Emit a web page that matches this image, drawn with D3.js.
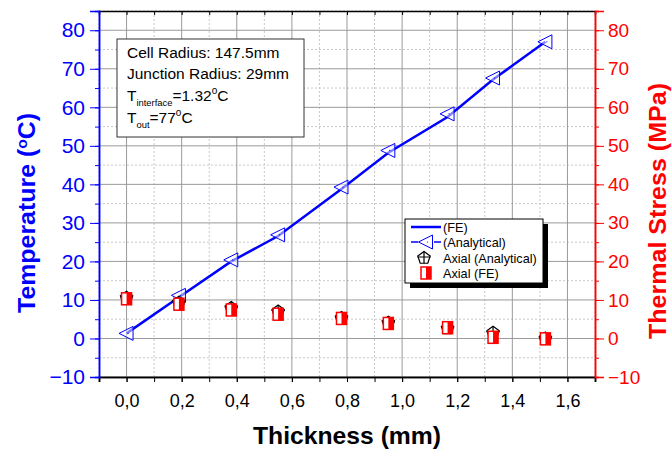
<!DOCTYPE html>
<html lang="en">
<head>
<meta charset="UTF-8">
<title>Temperature and Thermal Stress vs Thickness</title>
<script src="https://d3js.org/d3.v7.min.js"></script>
<style>
  body { margin: 0; background: #fff; }
  svg { font-family: "Liberation Sans", Arial, sans-serif; }
</style>
</head>
<body>
<div id="chart"></div>
<script>
// Data
const thickness = [0, 0.19, 0.38, 0.55, 0.78, 0.95, 1.165, 1.33, 1.52];
const tempFE = [1.32, 10.7, 20.0, 26.6, 38.8, 48.2, 57.5, 67.2, 77];
const tempAnalytical = [1.32, 11.2, 20.4, 26.9, 39.3, 48.8, 58.3, 67.6, 77];
const stressAnalytical = [10.6, 9.3, 7.9, 7.0, 5.3, 4.1, 2.6, 1.5, 0.0];
const stressFE = [10.3, 8.9, 7.4, 6.3, 5.2, 3.9, 2.8, 0.3, -0.1];
const xTicks = [0, 0.2, 0.4, 0.6, 0.8, 1.0, 1.2, 1.4, 1.6];
const yTicks = [-10, 0, 10, 20, 30, 40, 50, 60, 70, 80];
const legendLabels = ["(FE)", "(Analytical)", "Axial (Analytical)", "Axial (FE)"];
const noteLines = ["Cell Radius: 147.5mm", "Junction Radius: 29mm"];

const W = 672, H = 453;
const margin = {top: 11, right: 77, bottom: 76, left: 99};
const width = W - margin.left - margin.right;
const height = H - margin.top - margin.bottom;

const svg = d3.select("#chart").append("svg")
    .attr("width", W).attr("height", H);
const g = svg.append("g")
    .attr("transform", `translate(${margin.left},${margin.top})`);

const x = d3.scaleLinear().domain([-0.1, 1.7]).range([0, width]);
const yT = d3.scaleLinear().domain([-10, 85]).range([height, 0]);
const yS = d3.scaleLinear().domain([-10, 85]).range([height, 0]);

const fmt = d => d3.format(".1f")(d).replace(".", ",");
const minorX = d3.range(-0.1, 1.71, 0.1).map(v => +v.toFixed(2));
const minorY = d3.range(-10, 86, 5);

// grid: minor dashed, major solid
g.append("g").selectAll("line").data(minorX.filter(v => !xTicks.some(t => Math.abs(t - v) < 1e-6)))
  .join("line")
    .attr("x1", d => x(d)).attr("x2", d => x(d)).attr("y1", 0).attr("y2", height)
    .attr("stroke", "#c8c8c8").attr("stroke-dasharray", "2,2");
g.append("g").selectAll("line").data(minorY.filter(v => v % 10 !== 0))
  .join("line")
    .attr("x1", 0).attr("x2", width).attr("y1", d => yT(d)).attr("y2", d => yT(d))
    .attr("stroke", "#c8c8c8").attr("stroke-dasharray", "2,2");
g.append("g").selectAll("line").data(xTicks)
  .join("line")
    .attr("x1", d => x(d)).attr("x2", d => x(d)).attr("y1", 0).attr("y2", height)
    .attr("stroke", "#9a9a9a");
g.append("g").selectAll("line").data(yTicks)
  .join("line")
    .attr("x1", 0).attr("x2", width).attr("y1", d => yT(d)).attr("y2", d => yT(d))
    .attr("stroke", "#9a9a9a");

// axes
const bottomAxis = g.append("g").attr("transform", `translate(0,${height})`);
bottomAxis.append("g").call(d3.axisBottom(x).tickValues(minorX).tickSize(5).tickFormat(""));
bottomAxis.append("g").call(d3.axisBottom(x).tickValues(xTicks).tickSize(5).tickPadding(12).tickFormat(fmt));
bottomAxis.selectAll("path").attr("stroke", "#000").attr("stroke-width", 1.5);
bottomAxis.selectAll("text").attr("font-size", 18).attr("fill", "#000");

const topAxis = g.append("g");
topAxis.call(d3.axisBottom(x).tickValues(minorX).tickSize(4).tickFormat(""));
topAxis.selectAll("path").attr("stroke", "#000").attr("stroke-width", 1.5);

const leftAxis = g.append("g");
leftAxis.append("g").call(d3.axisLeft(yT).tickValues(minorY).tickSize(4).tickFormat(""));
leftAxis.append("g").call(d3.axisLeft(yT).tickValues(yTicks).tickSize(9).tickPadding(5));
leftAxis.selectAll("path, line").attr("stroke", "#0000ff");
leftAxis.selectAll("path").attr("stroke-width", 1.5);
leftAxis.selectAll("text").attr("font-size", 21).attr("fill", "#0000ff");

const rightAxis = g.append("g").attr("transform", `translate(${width},0)`);
rightAxis.append("g").call(d3.axisRight(yS).tickValues(minorY).tickSize(4).tickFormat(""));
rightAxis.append("g").call(d3.axisRight(yS).tickValues(yTicks).tickSize(9).tickPadding(4));
rightAxis.selectAll("path, line").attr("stroke", "#ff0000");
rightAxis.selectAll("path").attr("stroke-width", 1.5);
rightAxis.selectAll("text").attr("font-size", 19).attr("fill", "#ff0000");

// axis titles
svg.append("text")
  .attr("transform", "translate(35,213) rotate(-90)")
  .attr("text-anchor", "middle").attr("font-size", 24).attr("font-weight", "bold")
  .attr("fill", "#0000ff")
  .attr("textLength", 200).attr("lengthAdjust", "spacingAndGlyphs")
  .html("Temperature (<tspan baseline-shift='super' font-size='15'>o</tspan>C)");
svg.append("text")
  .attr("transform", "translate(666,211) rotate(-90)")
  .attr("text-anchor", "middle").attr("font-size", 24).attr("font-weight", "bold")
  .attr("fill", "#ff0000")
  .attr("textLength", 256).attr("lengthAdjust", "spacingAndGlyphs")
  .text("Thermal Stress (MPa)");
svg.append("text")
  .attr("x", 347).attr("y", 444)
  .attr("text-anchor", "middle").attr("font-size", 24).attr("font-weight", "bold")
  .attr("fill", "#000")
  .attr("textLength", 188).attr("lengthAdjust", "spacingAndGlyphs")
  .text("Thickness (mm)");

// FE temperature line
g.append("path").datum(thickness.map((t, i) => [t, tempFE[i]]))
  .attr("fill", "none").attr("stroke", "#0000ff").attr("stroke-width", 2.5)
  .attr("d", d3.line().x(d => x(d[0])).y(d => yT(d[1])));

// symbols
function triangle(sel, cx, cy) {
  sel.append("path")
    .attr("d", `M${cx - 7.5},${cy} L${cx + 6.5},${cy - 7} L${cx + 6.5},${cy + 7} Z`)
    .attr("fill", "#fff").attr("fill-opacity", 0.5).attr("stroke", "#0000ff").attr("stroke-width", 1);
  sel.append("circle").attr("cx", cx + 1.5).attr("cy", cy).attr("r", 0.6).attr("fill", "#0000ff");
}
function pentagon(sel, cx, cy) {
  const r = 6.5;
  const pts = d3.range(5).map(k => {
    const a = -Math.PI / 2 + k * 2 * Math.PI / 5;
    return [cx + r * Math.cos(a), cy + r * Math.sin(a)];
  });
  sel.append("path").attr("d", "M" + pts.join("L") + "Z")
    .attr("fill", "#fff").attr("stroke", "#000").attr("stroke-width", 1.2);
  sel.append("path").attr("d", `M${cx - r},${cy - 1}H${cx + r}M${cx},${cy - r}V${cy + r * 0.8}`)
    .attr("stroke", "#000").attr("stroke-width", 1.2);
}
function halfSquare(sel, cx, cy) {
  sel.append("rect").attr("x", cx - 5).attr("y", cy - 6).attr("width", 10).attr("height", 12)
    .attr("fill", "#fff").attr("stroke", "#ff0000").attr("stroke-width", 1.5);
  sel.append("rect").attr("x", cx).attr("y", cy - 6).attr("width", 5).attr("height", 12)
    .attr("fill", "#ff0000");
}

const marks = g.append("g");
thickness.forEach((t, i) => triangle(marks, x(t), yT(tempAnalytical[i])));
thickness.forEach((t, i) => pentagon(marks, x(t), yS(stressAnalytical[i])));
thickness.forEach((t, i) => halfSquare(marks, x(t), yS(stressFE[i])));

// note box
const note = svg.append("g");
note.append("rect").attr("x", 117).attr("y", 39).attr("width", 187).attr("height", 98)
  .attr("fill", "#fff").attr("stroke", "#333").attr("stroke-width", 1);
noteLines.forEach((s, i) => note.append("text").attr("x", 127).attr("y", 58 + i * 21)
  .attr("font-size", 15.5).attr("fill", "#000").text(s));
note.append("text").attr("x", 127).attr("y", 101).attr("font-size", 15.5)
  .html("T<tspan font-size='9.4' dy='5'>interface</tspan><tspan dy='-5'>=1.32</tspan><tspan font-size='10' dy='-7'>o</tspan><tspan dy='7'>C</tspan>");
note.append("text").attr("x", 127).attr("y", 123).attr("font-size", 15.5)
  .html("T<tspan font-size='9.4' dy='5'>out</tspan><tspan dy='-5'>=77</tspan><tspan font-size='10' dy='-7'>o</tspan><tspan dy='7'>C</tspan>");

// legend
const lg = svg.append("g");
lg.append("rect").attr("x", 410).attr("y", 224).attr("width", 138).attr("height", 64).attr("fill", "#000");
lg.append("rect").attr("x", 405).attr("y", 219).attr("width", 138).attr("height", 64)
  .attr("fill", "#fff").attr("stroke", "#000").attr("stroke-width", 1);
const ly = [227, 242, 258, 273];
lg.append("line").attr("x1", 411).attr("x2", 441).attr("y1", ly[0]).attr("y2", ly[0])
  .attr("stroke", "#0000ff").attr("stroke-width", 2.5);
lg.append("path").attr("d", `M411,${ly[1]}H418M434,${ly[1]}H441`).attr("stroke", "#0000ff").attr("stroke-width", 1.5);
triangle(lg, 426, ly[1]);
pentagon(lg, 424, ly[2]);
halfSquare(lg, 426, ly[3]);
legendLabels.forEach((s, i) => lg.append("text").attr("x", 443).attr("y", ly[i] + 4.5)
  .attr("font-size", 12.7).attr("fill", "#000").text(s));
</script>
</body>
</html>
